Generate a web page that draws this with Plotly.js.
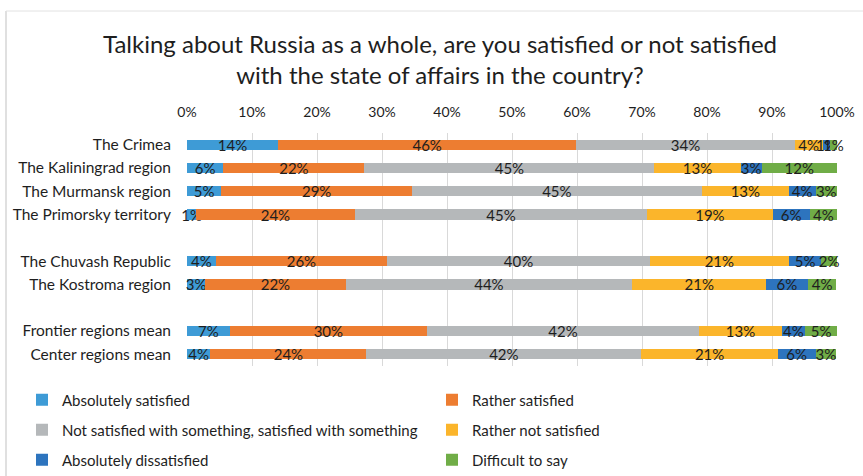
<!DOCTYPE html>
<html>
<head>
<meta charset="utf-8">
<script src="https://cdn.plot.ly/plotly-3.0.1.min.js"></script>
<style>html,body{margin:0;padding:0;background:#fff;}#chart{width:863px;height:476px;}</style>
</head>
<body>
<div id="chart"></div>
<script>
// Categories (blank entries are spacer rows)
const categories = ["The Crimea", "The Kaliningrad region", "The Murmansk region", "The Primorsky territory", " ",
  "The Chuvash Republic", "The Kostroma region", "  ", "Frontier regions mean", "Center regions mean"];

const seriesNames = ["Absolutely satisfied", "Rather satisfied",
  "Not satisfied with something, satisfied with something", "Rather not satisfied",
  "Absolutely dissatisfied", "Difficult to say"];

// Shares in percent, one array per series (null for spacer rows)
const absolutelySatisfied   = [14.0,  5.6,  5.3,  1.4, null,  4.4,  2.8, null,  6.6,  3.6];
const ratherSatisfied       = [45.9, 21.7, 29.3, 24.4, null, 26.4, 21.6, null, 30.3, 24.0];
const mixed                 = [33.6, 44.6, 44.6, 45.0, null, 40.4, 44.1, null, 41.9, 42.3];
const ratherNotSatisfied    = [ 4.3, 13.3, 13.4, 19.3, null, 21.4, 20.6, null, 12.7, 21.0];
const absolutelyDissatisfied= [ 1.1,  3.2,  4.1,  5.7, null,  5.0,  6.4, null,  3.6,  5.8];
const difficultToSay        = [ 1.1, 11.6,  3.3,  4.2, null,  2.4,  4.4, null,  4.9,  3.2];

const xTickVals = [0, 10, 20, 30, 40, 50, 60, 70, 80, 90, 100];
const xTickText = ["0%", "10%", "20%", "30%", "40%", "50%", "60%", "70%", "80%", "90%", "100%"];

const colors = ["#3E9BD6", "#ED7D31", "#B5B8BA", "#FBB52B", "#2D74BE", "#70AD47"];
const seriesValues = [absolutelySatisfied, ratherSatisfied, mixed, ratherNotSatisfied, absolutelyDissatisfied, difficultToSay];

const FONT = "Lato, 'Open Sans', sans-serif";

const W = 863, H = 476, ML = 187, MR = 26, MT = 133, MB = 110;
const pw = W - ML - MR, ph = H - MT - MB;
const px2x = p => (p - ML) / pw;
const py2y = p => (H - MB - p) / ph;

// legend grid: two columns, three rows
const legendCols = [22, 432];
const legendRows = [400, 430, 460];
const legendIds = seriesNames.map((_, i) => i === 0 ? "legend" : "legend" + (i + 1));

const traces = seriesValues.map((vals, i) => ({
  type: "bar",
  orientation: "h",
  name: seriesNames[i],
  y: categories,
  x: vals,
  marker: {color: colors[i]},
  text: vals.map(v => v == null ? "" : Math.round(v) + "%"),
  textposition: "inside",
  insidetextanchor: "middle",
  textangle: 0,
  constraintext: "none",
  textfont: {family: FONT, size: 15, color: "#1e1e1e"},
  cliponaxis: false,
  hoverinfo: "skip",
  legend: legendIds[i]
}));

function legendAt(xPix, yPix) {
  return {
    orientation: "h",
    xref: "container", yref: "container",
    x: xPix / W, xanchor: "left",
    y: 1 - yPix / H, yanchor: "middle",
    itemwidth: 30,
    font: {family: FONT, size: 15, color: "#1e1e1e"},
    bgcolor: "rgba(0,0,0,0)"
  };
}

const layout = {
  width: W, height: H,
  margin: {l: ML, r: MR, t: MT, b: MB, pad: 0},
  paper_bgcolor: "#ffffff",
  plot_bgcolor: "#ffffff",
  barmode: "stack",
  bargap: 0.56,
  font: {family: FONT, color: "#1e1e1e"},
  title: {
    text: "Talking about Russia as a whole, are you satisfied or not satisfied<br>with the state of affairs in the country?",
    font: {family: FONT, size: 24, color: "#1e1e1e"},
    x: 440 / W, xref: "container", xanchor: "center",
    y: 1 - 53 / H, yref: "container", yanchor: "top"
  },
  xaxis: {
    side: "top",
    range: [0, 100],
    tickvals: xTickVals,
    ticktext: xTickText,
    showgrid: true,
    gridcolor: "#d9d9d9",
    gridwidth: 1,
    zeroline: false,
    showline: false,
    ticks: "",
    ticklabelstandoff: 12,
    tickfont: {family: FONT, size: 14, color: "#1e1e1e"},
    fixedrange: true
  },
  yaxis: {
    type: "category",
    categoryorder: "array",
    categoryarray: categories,
    autorange: "reversed",
    showgrid: false,
    zeroline: false,
    showline: false,
    ticks: "",
    ticklabelstandoff: 15,
    tickfont: {family: FONT, size: 15.5, color: "#1e1e1e"},
    fixedrange: true
  },
  showlegend: true,
  shapes: [
    {type: "line", xref: "paper", yref: "paper", x0: px2x(6), x1: px2x(6), y0: py2y(480), y1: py2y(11), line: {color: "#d6d6d6", width: 1.5}},
    {type: "line", xref: "paper", yref: "paper", x0: px2x(6), x1: px2x(870), y0: py2y(11), y1: py2y(11), line: {color: "#e2e2e2", width: 1}}
  ]
};

legendIds.forEach((id, i) => {
  layout[id] = legendAt(legendCols[i % 2], legendRows[Math.floor(i / 2)]);
});

Plotly.newPlot("chart", traces, layout, {displayModeBar: false, staticPlot: true});
</script>
</body>
</html>
